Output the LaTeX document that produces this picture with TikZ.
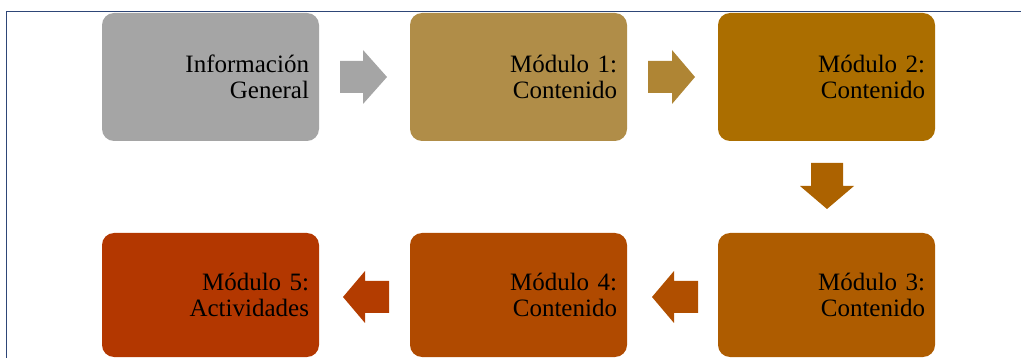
\documentclass[tikz,border=0pt]{standalone}
\usepackage{fontspec}
\setmainfont{Liberation Serif}
\definecolor{frameblue}{HTML}{2E4677}
\definecolor{cA}{HTML}{A5A5A5}
\definecolor{cB}{HTML}{B08D48}
\definecolor{cC}{HTML}{AB6E00}
\definecolor{cD}{HTML}{AE5C00}
\definecolor{cE}{HTML}{B04A00}
\definecolor{cF}{HTML}{B33700}
\definecolor{aB}{HTML}{AF8534}
\definecolor{aC}{HTML}{AC6200}
\definecolor{aD}{HTML}{B04F00}
\definecolor{aE}{HTML}{B33C00}
\begin{document}
\begin{tikzpicture}[x=1pt,y=-1pt,
  stepbox/.style={rectangle, rounded corners=12pt, draw=none, minimum height=128pt,
    text width=197pt, inner xsep=10pt, inner ysep=0pt, align=right,
    font=\fontsize{25}{25.5}\selectfont, text=black}]
\useasboundingbox (0,0) rectangle (1021,358);
% frame
\draw[frameblue, line width=1.6pt] (6.5,358) -- (6.5,11.5) -- (1021,11.5);
% boxes
\node[stepbox, fill=cA] (b1) at (210.5,77) {Información\\General};
\node[stepbox, fill=cB] (b2) at (518.5,77) {Módulo 1:\\Contenido};
\node[stepbox, fill=cC] (b3) at (826.5,77) {Módulo 2:\\Contenido};
\node[stepbox, fill=cD, minimum height=124pt] (b4) at (826.5,295) {Módulo 3:\\Contenido};
\node[stepbox, fill=cE, minimum height=124pt] (b5) at (518.5,295) {Módulo 4:\\Contenido};
\node[stepbox, fill=cF, minimum height=124pt] (b6) at (210.5,295) {Módulo 5:\\Actividades};
% arrows
\fill[cA] (340,61) -- (363,61) -- (363,50) -- (387,77) -- (363,104) -- (363,93) -- (340,93) -- cycle;
\fill[aB] (648,61) -- (672,61) -- (672,50) -- (695,77) -- (672,104) -- (672,93) -- (648,93) -- cycle;
\fill[aC] (811,163) -- (843,163) -- (843,186) -- (854,186) -- (827,209) -- (800,186) -- (811,186) -- cycle;
\fill[aD] (698,281) -- (674,281) -- (674,271) -- (652,297) -- (674,323) -- (674,313) -- (698,313) -- cycle;
\fill[aE] (389,281) -- (365,281) -- (365,271) -- (343,297) -- (365,323) -- (365,313) -- (389,313) -- cycle;
\end{tikzpicture}
\end{document}
